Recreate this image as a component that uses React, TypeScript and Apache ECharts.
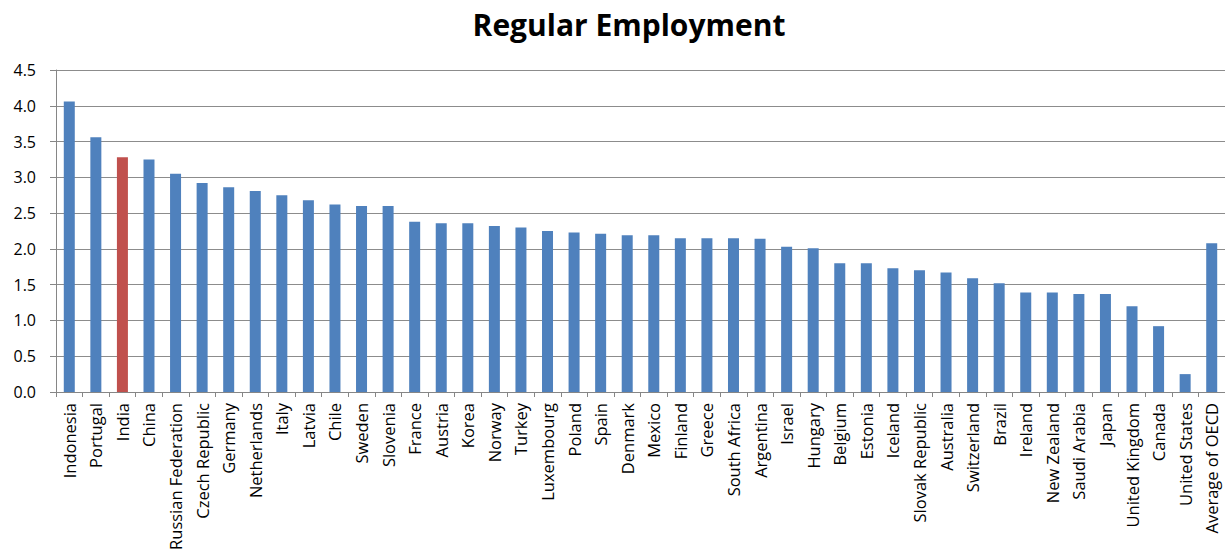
import React, { useEffect, useRef } from "react";
import * as echarts from "echarts";

const categories = [
  "Indonesia", "Portugal", "India", "China", "Russian Federation", "Czech Republic",
  "Germany", "Netherlands", "Italy", "Latvia", "Chile", "Sweden", "Slovenia", "France",
  "Austria", "Korea", "Norway", "Turkey", "Luxembourg", "Poland", "Spain", "Denmark",
  "Mexico", "Finland", "Greece", "South Africa", "Argentina", "Israel", "Hungary",
  "Belgium", "Estonia", "Iceland", "Slovak Republic", "Australia", "Switzerland",
  "Brazil", "Ireland", "New Zealand", "Saudi Arabia", "Japan", "United Kingdom",
  "Canada", "United States", "Average of OECD",
];

const values = [
  4.06, 3.56, 3.28, 3.25, 3.05, 2.92,
  2.86, 2.81, 2.75, 2.68, 2.62, 2.6, 2.6, 2.38,
  2.36, 2.36, 2.32, 2.3, 2.25, 2.23, 2.21, 2.19,
  2.19, 2.15, 2.15, 2.15, 2.14, 2.03, 2.01,
  1.8, 1.8, 1.73, 1.7, 1.67, 1.59,
  1.52, 1.39, 1.39, 1.37, 1.37, 1.2,
  0.92, 0.25, 2.08,
];

const highlighted = ["India"];

const titleText = "Regular Employment";

export default function App() {
  const ref = useRef<HTMLDivElement>(null);
  useEffect(() => {
    document.body.style.margin = "0";
    const chart = echarts.init(ref.current!, undefined, { renderer: "svg" });
    chart.setOption({
      animation: false,
      backgroundColor: "#ffffff",
      textStyle: { fontFamily: "Open Sans" },
      title: {
        text: titleText,
        left: 624,
        top: 4,
        textAlign: "center",
        textStyle: { fontFamily: "Open Sans", fontWeight: "bold", fontSize: 30, color: "#000" },
      },
      grid: { left: 56, right: 0, top: 70, bottom: 167, containLabel: false },
      xAxis: {
        type: "category",
        data: categories,
        axisLine: { lineStyle: { color: "#868686" } },
        axisTick: { show: true, length: 5, lineStyle: { color: "#868686" } },
        axisLabel: {
          rotate: 90,
          interval: 0,
          margin: 11,
          fontSize: 16.5,
          color: "#000",
          fontFamily: "Open Sans",
        },
      },
      yAxis: {
        type: "value",
        min: 0,
        max: 4.5,
        interval: 0.5,
        axisLine: { show: true, lineStyle: { color: "#868686" } },
        axisTick: { show: true, length: 6, lineStyle: { color: "#868686" } },
        axisLabel: {
          formatter: (v: number) => v.toFixed(1),
          fontSize: 16,
          color: "#000",
          margin: 20,
          fontFamily: "Open Sans",
        },
        splitLine: { lineStyle: { color: "#8c8c8c", width: 1 } },
      },
      series: [
        {
          type: "bar",
          data: values.map((v, i) => ({
            value: v,
            itemStyle: { color: highlighted.includes(categories[i]) ? "#C0504D" : "#4F81BD" },
          })),
          barWidth: 11,
        },
      ],
    });
    return () => chart.dispose();
  }, []);
  return <div ref={ref} style={{ width: 1225, height: 559 }} />;
}
